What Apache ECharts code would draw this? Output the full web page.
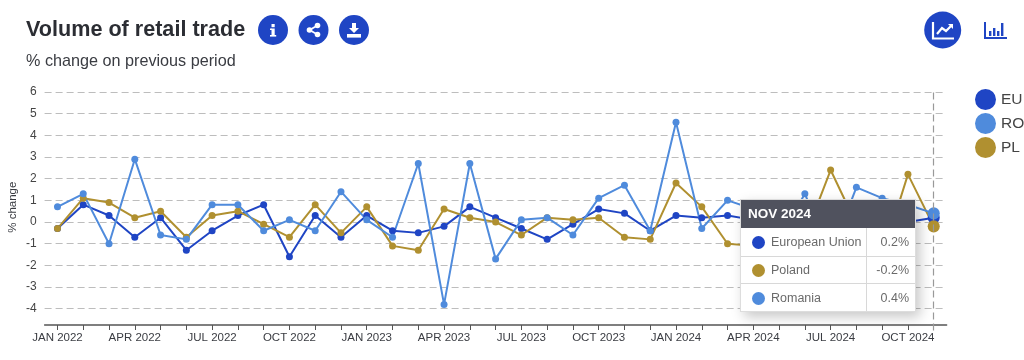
<!DOCTYPE html>
<html><head><meta charset="utf-8">
<style>html,body{margin:0;padding:0;background:#fff}#c{width:1024px;height:360px;overflow:hidden}</style>
<script src="https://cdn.jsdelivr.net/npm/echarts@6/dist/echarts.min.js"></script>
</head><body><div id="c"></div>
<script>
const months = ['JAN 2022','FEB 2022','MAR 2022','APR 2022','MAY 2022','JUN 2022','JUL 2022','AUG 2022','SEP 2022','OCT 2022','NOV 2022','DEC 2022',
 'JAN 2023','FEB 2023','MAR 2023','APR 2023','MAY 2023','JUN 2023','JUL 2023','AUG 2023','SEP 2023','OCT 2023','NOV 2023','DEC 2023',
 'JAN 2024','FEB 2024','MAR 2024','APR 2024','MAY 2024','JUN 2024','JUL 2024','AUG 2024','SEP 2024','OCT 2024','NOV 2024'];
const euValues = [-0.3,0.8,0.3,-0.7,0.2,-1.3,-0.4,0.3,0.8,-1.6,0.3,-0.7,0.3,-0.4,-0.5,-0.2,0.7,0.2,-0.3,-0.8,-0.1,0.6,0.4,-0.4,0.3,0.2,0.3,0.1,0.1,0.3,0.1,0.1,0.1,0.0,0.2];
const plValues = [-0.3,1.1,0.9,0.2,0.5,-0.7,0.3,0.5,-0.1,-0.7,0.8,-0.5,0.7,-1.1,-1.3,0.6,0.2,0.0,-0.6,0.2,0.1,0.2,-0.7,-0.8,1.8,0.7,-1.0,-1.1,0.0,-0.7,2.4,-0.1,-1.6,2.2,-0.2];
const roValues = [0.7,1.3,-1.0,2.9,-0.6,-0.8,0.8,0.8,-0.4,0.1,-0.4,1.4,0.1,-0.7,2.7,-3.8,2.7,-1.7,0.1,0.2,-0.6,1.1,1.7,-0.4,4.6,-0.3,1.0,0.6,-0.8,1.3,-1.5,1.6,1.1,0.8,0.4];
const BLUE='#1f45c4', LIGHT='#4f8bdc', GOLD='#b09030', INK='#2b2d33';
const FONT='"Liberation Sans", Arial, sans-serif';
const last = months.length-1;

function mkSeries(name,color,data){
  return {name,type:'line',data,symbol:'circle',
    symbolSize:(v,p)=>p.dataIndex===last?11:7,
    itemStyle:{color},lineStyle:{color,width:2},
    emphasis:{disabled:true},animation:false};
}
function row(color,name,val,border){
  return `<div style="display:flex;box-sizing:border-box;height:27.6px;${border?'border-top:1px solid #d8d8d8':''}">
   <div style="width:126px;box-sizing:border-box;height:100%;display:flex;align-items:center;padding:2px 0 0 11px;border-right:1px solid #d8d8d8">
   <span style="width:13px;height:13px;border-radius:50%;background:${color};margin-right:6px;flex:none"></span>${name}</div>
   <div style="flex:1;display:flex;align-items:center;justify-content:flex-end;padding:2px 6px 0 0">${val}</div></div>`;
}
const circle=(cx,cy,r,fill)=>({type:'circle',shape:{cx,cy,r},style:{fill},silent:true});
const rect=(x,y,width,height,fill)=>({type:'rect',shape:{x,y,width,height},style:{fill},silent:true});
const poly=(points,fill)=>({type:'polygon',shape:{points},style:{fill},silent:true});
const pl=(points,stroke,w)=>({type:'polyline',shape:{points},style:{stroke,lineWidth:w,fill:null},silent:true});

const graphics=[
 {type:'text',left:26,top:19,style:{text:'Volume of retail trade',font:'bold 21.6px '+FONT,fill:INK}},
 {type:'text',left:26,top:54,style:{text:'% change on previous period',font:'16.2px '+FONT,fill:'#3a3c42'}},
 circle(273,30,15,BLUE),
 rect(271.5,24,3.2,3.2,'#fff'),rect(271.5,28.5,3.2,7,'#fff'),rect(270,35,6.2,1.6,'#fff'),rect(270,28.5,2,1.5,'#fff'),
 circle(313.5,30,15,BLUE),
 pl([[317.5,25.5],[309.5,30],[317.5,34.5]],'#fff',1.8),
 circle(317.5,25.5,2.8,'#fff'),circle(309.5,30,2.8,'#fff'),circle(317.5,34.5,2.8,'#fff'),
 circle(354,30,15,BLUE),
 poly([[352,23],[356,23],[356,28],[359,28],[354,33],[349,28],[352,28]],'#fff'),
 rect(347,34,14,3.6,'#fff'),
 circle(942.7,30,18.5,BLUE),
 pl([[933,22],[933,38.5],[954,38.5]],'#fff',2.2),
 pl([[937,34],[942,28],[946,31],[952,25]],'#fff',2.2),
 poly([[948,24],[953,24],[953,29]],'#fff'),
 pl([[985,22],[985,38],[1007,38]],BLUE,2),
 rect(989,31,2.4,5,BLUE),rect(993,28,2.4,8,BLUE),rect(997,31,2.4,5,BLUE),rect(1001,23,2.4,13,BLUE)
];

const chart=echarts.init(document.getElementById('c'),null,{renderer:'canvas',width:1024,height:360});
chart.setOption({
  animation:false,backgroundColor:'#fff',textStyle:{fontFamily:FONT},
  grid:{left:44.6,right:77.4,top:92,height:238.4,containLabel:false,outerBoundsMode:'none'},
  legend:{left:975,top:89,orient:'vertical',padding:0,itemWidth:21,itemHeight:21,itemGap:3,icon:'circle',
    data:['EU','RO','PL'],selectedMode:false,
    textStyle:{fontSize:15.5,color:'#444',fontFamily:FONT}},
  tooltip:{trigger:'axis',triggerOn:'none',alwaysShowContent:true,position:[740,199],
    padding:0,borderWidth:0,backgroundColor:'#fff',transitionDuration:0,
    extraCssText:'box-shadow:4px 5px 12px rgba(0,0,0,.22);border-radius:0;width:176px;font-family:"Liberation Sans",Arial,sans-serif;font-size:12.5px;color:#6a6a6a;box-sizing:border-box;border:1px solid #ddd',
    axisPointer:{type:'line',snap:true,label:{show:false},lineStyle:{type:[7,4],color:'#999',width:1.2}},
    formatter:()=>`<div style="background:#50525e;color:#fff;font-weight:bold;font-size:13.5px;height:28px;line-height:28px;padding-left:7px">${months[last]}</div>`
      +row(BLUE,'European Union',euValues[last].toFixed(1)+'%',false)
      +row(GOLD,'Poland',plValues[last].toFixed(1)+'%',true)
      +row(LIGHT,'Romania',roValues[last].toFixed(1)+'%',true)
  },
  xAxis:{type:'category',data:months,boundaryGap:true,offset:-5.4,
    axisLine:{onZero:false,lineStyle:{color:'#555',width:1.5}},
    axisTick:{show:true,alignWithLabel:true,length:5,lineStyle:{color:'#555',width:1},interval:0},
    axisLabel:{interval:2,margin:7,fontSize:11.5,color:'#3a3c42',fontFamily:FONT,hideOverlap:false},
    splitLine:{show:false}},
  yAxis:{type:'value',min:-5,max:6,interval:1,name:'% change',nameLocation:'middle',nameGap:26,nameMoveOverlap:false,
    nameTextStyle:{fontSize:11.5,color:'#3a3c42',fontFamily:FONT,padding:[0,0,0,8]},
    axisLine:{show:false},axisTick:{show:false},
    axisLabel:{fontSize:12,color:'#444',margin:8,showMinLabel:false,fontFamily:FONT},
    splitLine:{showMinLine:false,lineStyle:{type:[7,4],color:'#bdbdbd',width:1.2}}},
  series:[mkSeries('EU',BLUE,euValues),mkSeries('PL',GOLD,plValues),mkSeries('RO',LIGHT,roValues)],
  graphic:graphics
});
chart.dispatchAction({type:'showTip',seriesIndex:0,dataIndex:last});
</script></body></html>
